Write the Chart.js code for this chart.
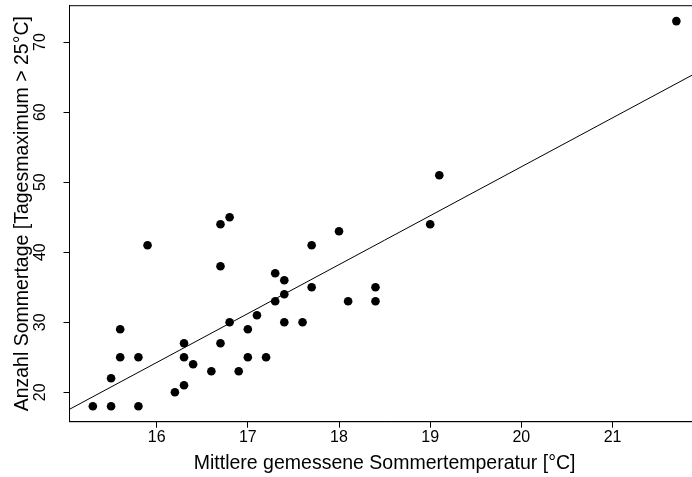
<!DOCTYPE html>
<html>
<head>
<meta charset="utf-8">
<script src="https://cdn.jsdelivr.net/npm/chart.js@4/dist/chart.umd.min.js"></script>
<style>
  html, body { margin: 0; padding: 0; background: #fff; overflow: hidden; }
  #wrap { width: 704px; height: 477px; position: relative; }
</style>
</head>
<body>
<div id="wrap"><canvas id="tempChart"></canvas></div>
<script>
// mean summer temperature [°C]
const temperature = [
  15.3, 15.5, 15.8, 15.5, 15.6, 15.8, 15.6, 15.9, 16.2, 16.3,
  16.3, 16.3, 16.4, 16.6, 16.7, 16.7, 16.7, 16.8, 16.8, 16.9,
  17.0, 17.0, 17.1, 17.2, 17.3, 17.3, 17.4, 17.4, 17.4, 17.6,
  17.7, 17.7, 18.0, 18.1, 18.4, 18.4, 19.0, 19.1, 21.7
];
// number of summer days (max > 25°C)
const summerDays = [
  18, 18, 18, 22, 25, 25, 29, 41, 20, 21,
  25, 27, 24, 23, 27, 38, 44, 45, 30, 23,
  25, 29, 31, 25, 37, 33, 36, 34, 30, 30,
  41, 35, 43, 33, 35, 33, 44, 51, 73
];
// regression line
const fitIntercept = -87.54;
const fitSlope = 6.987;

const xTicks = [16, 17, 18, 19, 20, 21];
const yTicks = [20, 30, 40, 50, 60, 70];
const xRange = [15.044, 21.956];
const yRange = [15.8, 75.2];

const points = temperature.map((t, i) => ({ x: t, y: summerDays[i] }));
const fitPoints = xRange.map(x => ({ x: x, y: fitIntercept + fitSlope * x }));

const FONT = "'Liberation Sans', Arial, sans-serif";

// R style box + rotated y tick labels
const rStyle = {
  id: "rStyle",
  afterDraw(chart) {
    const ctx = chart.ctx;
    const a = chart.chartArea;
    ctx.save();
    ctx.strokeStyle = "#000";
    ctx.lineWidth = 1;
    ctx.strokeRect(a.left, a.top, a.right - a.left, a.bottom - a.top);

    const ys = chart.scales.y;
    ctx.fillStyle = "#000";
    ctx.font = "16px " + FONT;
    ctx.textAlign = "center";
    ctx.textBaseline = "middle";
    yTicks.forEach(v => {
      ctx.save();
      ctx.translate(41, ys.getPixelForValue(v));
      ctx.rotate(-Math.PI / 2);
      ctx.fillText(String(v), 0, 0);
      ctx.restore();
    });
    ctx.restore();
  }
};

new Chart(document.getElementById("tempChart"), {
  type: "scatter",
  data: {
    datasets: [
      {
        data: points,
        backgroundColor: "#000",
        borderWidth: 0,
        pointRadius: 4.3,
        pointHoverRadius: 4.3
      },
      {
        data: fitPoints,
        showLine: true,
        borderColor: "#000",
        borderWidth: 1,
        pointRadius: 0,
        fill: false
      }
    ]
  },
  options: {
    responsive: true,
    maintainAspectRatio: false,
    animation: false,
    events: [],
    layout: { padding: { top: 5.7, right: 0, bottom: 0, left: 0 } },
    plugins: { legend: { display: false }, tooltip: { enabled: false } },
    scales: {
      x: {
        type: "linear",
        min: xRange[0],
        max: xRange[1],
        afterBuildTicks: s => { s.ticks = xTicks.map(v => ({ value: v })); },
        afterFit: s => { s.height = 55.3; },
        grid: { drawOnChartArea: false, drawTicks: true, tickLength: 6, color: "#000", lineWidth: 1 },
        border: { display: true, color: "#000", width: 1 },
        ticks: {
          color: "#000",
          padding: 0,
          maxRotation: 0,
          font: { family: FONT, size: 16 },
          callback: v => String(v)
        },
        title: {
          display: true,
          text: "Mittlere gemessene Sommertemperatur [°C]",
          color: "#000",
          font: { family: FONT, size: 19.5, lineHeight: 1 },
          padding: { top: 0, bottom: 3.5 }
        }
      },
      y: {
        type: "linear",
        min: yRange[0],
        max: yRange[1],
        afterBuildTicks: s => { s.ticks = yTicks.map(v => ({ value: v })); },
        afterFit: s => { s.width = 69.5; },
        grid: { drawOnChartArea: false, drawTicks: true, tickLength: 6, color: "#000", lineWidth: 1 },
        border: { display: true, color: "#000", width: 1 },
        ticks: { display: false },
        title: {
          display: true,
          text: "Anzahl Sommertage [Tagesmaximum > 25°C]",
          color: "#000",
          font: { family: FONT, size: 19.5, lineHeight: 1 },
          padding: { top: 12.5, bottom: 0 }
        }
      }
    }
  },
  plugins: [rStyle]
});
</script>
</body>
</html>
